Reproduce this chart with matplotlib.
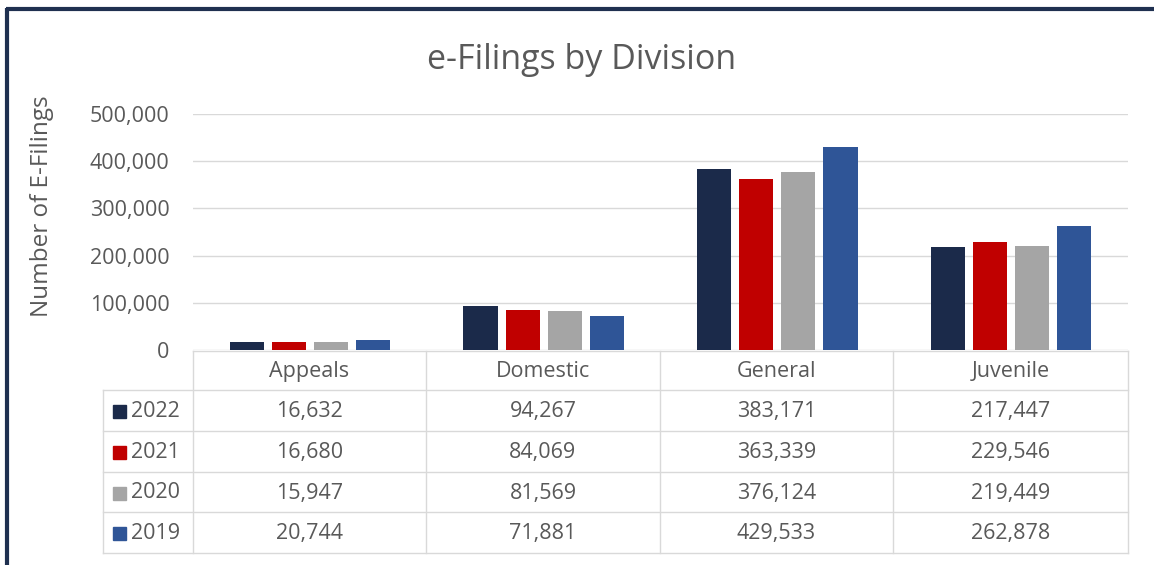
import matplotlib.pyplot as plt
import numpy as np
from matplotlib.patches import Rectangle

# data
divisions = ["Appeals", "Domestic", "General", "Juvenile"]
years = ["2022", "2021", "2020", "2019"]
v2022 = [16632, 94267, 383171, 217447]
v2021 = [16680, 84069, 363339, 229546]
v2020 = [15947, 81569, 376124, 219449]
v2019 = [20744, 71881, 429533, 262878]
series = [v2022, v2021, v2020, v2019]
colors = ["#1B2A4A", "#C00000", "#A5A5A5", "#2F5597"]
yticks = [0, 100000, 200000, 300000, 400000, 500000]

W, H = 1154, 565
txt = "#595959"
grid = "#D9D9D9"
fs = 15.5
plt.rcParams['font.family'] = ['Open Sans', 'DejaVu Sans']

fig = plt.figure(figsize=(W / 100, H / 100), dpi=100)

# main bar axes (pixel layout -> figure fractions)
x0, x1, ytop, ybot = 193, 1128, 114, 350
ax = fig.add_axes([x0 / W, 1 - ybot / H, (x1 - x0) / W, (ybot - ytop) / H])
x = np.arange(len(divisions))
step, bw = 0.18, 0.146
for i, vals in enumerate(series):
    ax.bar(x + (i - 1.5) * step, vals, width=bw, color=colors[i], zorder=3)
ax.set_xlim(-0.5, len(divisions) - 0.5)
ax.set_ylim(0, 500000)
ax.set_yticks(yticks)
ax.set_yticklabels([f"{t:,}" for t in yticks], color=txt, fontsize=fs)
ax.tick_params(axis='y', length=0, pad=17)
ax.set_xticks([])
ax.grid(axis='y', color=grid, linewidth=1, zorder=0)
for s in ax.spines.values():
    s.set_visible(False)

fig.text(42 / W, 1 - 206 / H, "Number of E-Filings", rotation=90, color=txt,
         fontsize=17.5, ha='center', va='center')
fig.text(582 / W, 1 - 60 / H, "e-Filings by Division", color=txt,
         fontsize=24.5, ha='center', va='center')

# data table in pixel coords
tb = fig.add_axes([0, 0, 1, 1])
tb.set_xlim(0, W)
tb.set_ylim(H, 0)
tb.axis('off')
tb.patch.set_alpha(0)

cols = [193, 426, 660, 893, 1128]
rows = [351, 390, 431, 472, 512, 553]
lc = "#D9D9D9"
# horizontal lines
tb.plot([cols[0], cols[-1]], [rows[0], rows[0]], color=lc, lw=1)
for r in rows[1:]:
    tb.plot([103, cols[-1]], [r, r], color=lc, lw=1)
# vertical lines
for c in cols:
    tb.plot([c, c], [rows[0], rows[-1]], color=lc, lw=1)
tb.plot([103, 103], [rows[1], rows[-1]], color=lc, lw=1)

for j, d in enumerate(divisions):
    tb.text((cols[j] + cols[j + 1]) / 2, (rows[0] + rows[1]) / 2 + 1, d,
            ha='center', va='center', color=txt, fontsize=fs)
for i, (yr, vals) in enumerate(zip(years, series)):
    yc = (rows[i + 1] + rows[i + 2]) / 2 + 1
    tb.add_patch(Rectangle((113, yc - 6.5), 13, 13, color=colors[i]))
    tb.text(131, yc, yr, ha='left', va='center', color=txt, fontsize=fs)
    for j, v in enumerate(vals):
        tb.text((cols[j] + cols[j + 1]) / 2, yc, f"{v:,}",
                ha='center', va='center', color=txt, fontsize=fs)

# navy frame on top and left
navy = "#1F3050"
tb.plot([6, W], [9, 9], color=navy, lw=3, solid_capstyle='butt')
tb.plot([7, 7], [8, H], color=navy, lw=3, solid_capstyle='butt')

fig.savefig("out.png", dpi=100, facecolor="white")
